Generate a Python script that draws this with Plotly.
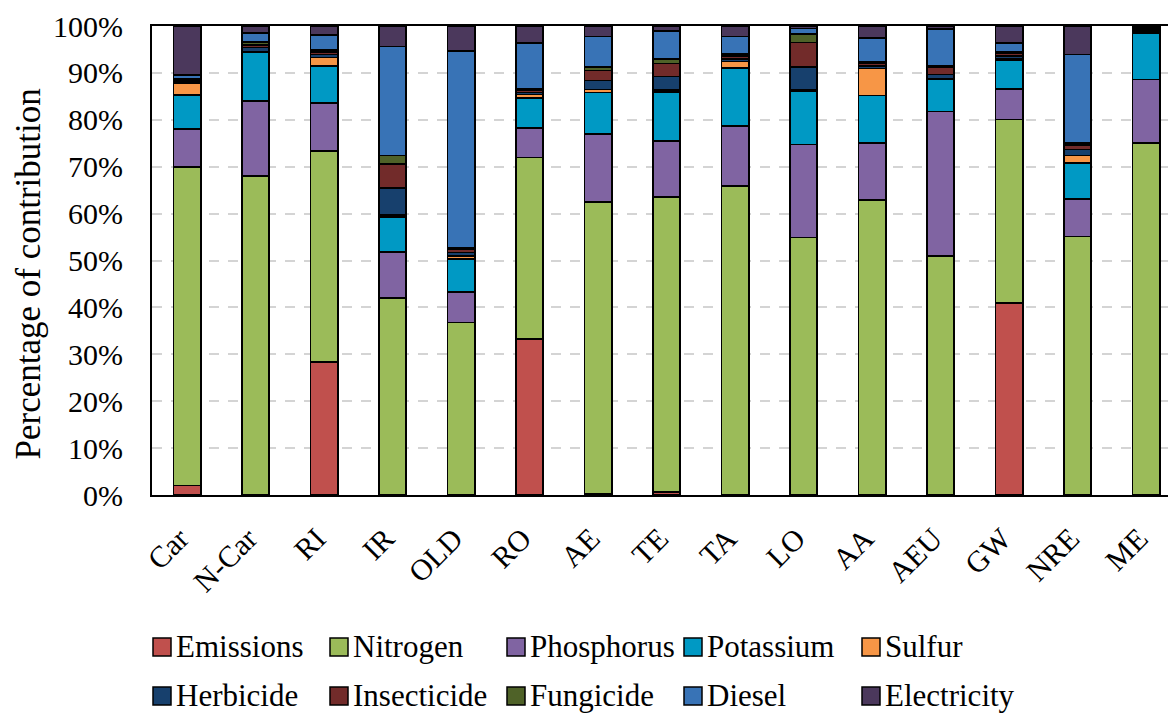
import plotly.graph_objects as go

categories = ["Car", "N-Car", "RI", "IR", "OLD", "RO", "AE", "TE", "TA", "LO", "AA", "AEU", "GW", "NRE", "ME"]

emissions   = [2.0, 0, 28.3, 0, 0, 33.2, 0.3, 0.7, 0, 0, 0, 0, 40.9, 0, 0]
nitrogen    = [68.0, 68.0, 45.0, 42.0, 36.8, 38.8, 62.2, 62.9, 65.9, 54.9, 62.9, 51.0, 39.2, 55.1, 75.0]
phosphorus  = [8.0, 16.0, 10.3, 9.8, 6.5, 6.3, 14.5, 11.9, 12.8, 19.8, 12.1, 30.8, 6.5, 8.0, 13.6]
potassium   = [7.3, 10.4, 7.9, 7.5, 7.0, 6.3, 8.8, 10.4, 12.3, 11.5, 10.2, 6.8, 6.2, 7.7, 9.8]
sulfur      = [2.6, 0.2, 1.8, 0.4, 0.6, 0.8, 0.7, 0.5, 1.4, 0.2, 5.7, 0.2, 0.3, 1.6, 0.2]
herbicide   = [0.3, 0.8, 0.6, 5.8, 0.8, 0.4, 1.9, 2.8, 0.6, 4.8, 0.6, 0.9, 0.5, 1.3, 0.3]
insecticide = [0.3, 0.6, 0.6, 5.1, 0.8, 0.5, 2.1, 2.8, 0.6, 5.3, 0.5, 1.5, 0.5, 0.9, 0.3]
fungicide   = [0.3, 0.6, 0.4, 1.8, 0.2, 0.3, 0.7, 1.0, 0.4, 1.8, 0.3, 0.4, 0.3, 0.4, 0.2]
diesel      = [0.8, 1.9, 3.2, 23.2, 42.0, 9.8, 6.6, 5.9, 3.8, 1.2, 5.1, 7.8, 2.0, 18.9, 0.3]
electricity = [10.4, 1.5, 1.9, 4.4, 5.3, 3.6, 2.2, 1.1, 2.2, 0.5, 2.6, 0.6, 3.6, 6.1, 0.3]

series_names = ["Emissions", "Nitrogen", "Phosphorus", "Potassium", "Sulfur",
                "Herbicide", "Insecticide", "Fungicide", "Diesel", "Electricity"]
series_values = [emissions, nitrogen, phosphorus, potassium, sulfur,
                 herbicide, insecticide, fungicide, diesel, electricity]
series_colors = ["#C0504D", "#9BBB59", "#8064A2", "#0099C4", "#F79646",
                 "#17406D", "#722B2A", "#4F6228", "#3873B6", "#4B385C"]

y_tickvals = list(range(0, 101, 10))
y_ticktext = [f"{v}%" for v in y_tickvals]
y_title = "Percentage of contribution"

FONT = "Liberation Serif"

fig = go.Figure()
for name, vals, col in zip(series_names, series_values, series_colors):
    fig.add_trace(go.Bar(
        x=categories,
        y=[v if v else None for v in vals],
        name=name,
        marker=dict(color=col, line=dict(color="#000000", width=1.6)),
        showlegend=False,
    ))

L, T, B = 152, 26, 219
W, H = 1168, 714
plot_w = W - L
plot_h = H - T - B

def ypaper(px):
    return (H - B - px) / plot_h

def xpaper(px):
    return (px - L) / plot_w

annotations = [dict(
    text=y_title, textangle=-90,
    xref="paper", yref="paper", x=xpaper(28), y=ypaper(274.5),
    xanchor="center", yanchor="middle", showarrow=False,
    font=dict(family=FONT, size=35, color="#000000"),
)]
shapes = []

# legend laid out as in the reference: 2 rows x 5 columns
col_left = [153, 330, 507, 684, 862]
row_text_mid = [646, 695]
marker_size = 18
for i, (name, col) in enumerate(zip(series_names, series_colors)):
    r, c = divmod(i, 5)
    x0 = col_left[c]
    y0 = row_text_mid[r] - 8
    shapes.append(dict(
        type="rect", xref="paper", yref="paper",
        x0=xpaper(x0), x1=xpaper(x0 + marker_size),
        y0=ypaper(y0), y1=ypaper(y0 + marker_size),
        fillcolor=col, line=dict(color="#000000", width=1.5), layer="above",
    ))
    annotations.append(dict(
        text=name, xref="paper", yref="paper",
        x=xpaper(x0 + marker_size + 3), y=ypaper(row_text_mid[r]),
        xanchor="left", yanchor="middle", showarrow=False,
        font=dict(family=FONT, size=31, color="#000000"),
    ))

fig.update_layout(
    width=W, height=H,
    margin=dict(l=L, r=0, t=T, b=B, pad=0, autoexpand=False),
    paper_bgcolor="white", plot_bgcolor="white",
    barmode="stack", bargap=0.6,
    font=dict(family=FONT, size=30, color="#000000"),
    showlegend=False,
    xaxis=dict(
        range=[-0.511, 14.32],
        tickangle=-45,
        tickfont=dict(family=FONT, size=30, color="#000000"),
        showline=True, linecolor="#000000", linewidth=2,
        mirror=True,
        showgrid=False, ticks="",
        ticklabelstandoff=12, ticklabelshift=-7,
        automargin=False,
        fixedrange=True,
    ),
    yaxis=dict(
        range=[0, 100],
        tickmode="array",
        tickvals=y_tickvals,
        ticktext=y_ticktext,
        tickfont=dict(family=FONT, size=30, color="#000000"),
        showline=True, linecolor="#000000", linewidth=2,
        showgrid=True, gridcolor="#D4D4D4", gridwidth=2, griddash="10px,9px",
        ticks="", ticklabelstandoff=21,
        zeroline=False,
        automargin=False,
        fixedrange=True,
    ),
    annotations=annotations,
    shapes=shapes,
)

fig.write_html(
    "out.html",
    config={"displayModeBar": False, "staticPlot": True},
    post_script="document.body.style.margin='0';document.body.style.overflow='hidden';",
)
